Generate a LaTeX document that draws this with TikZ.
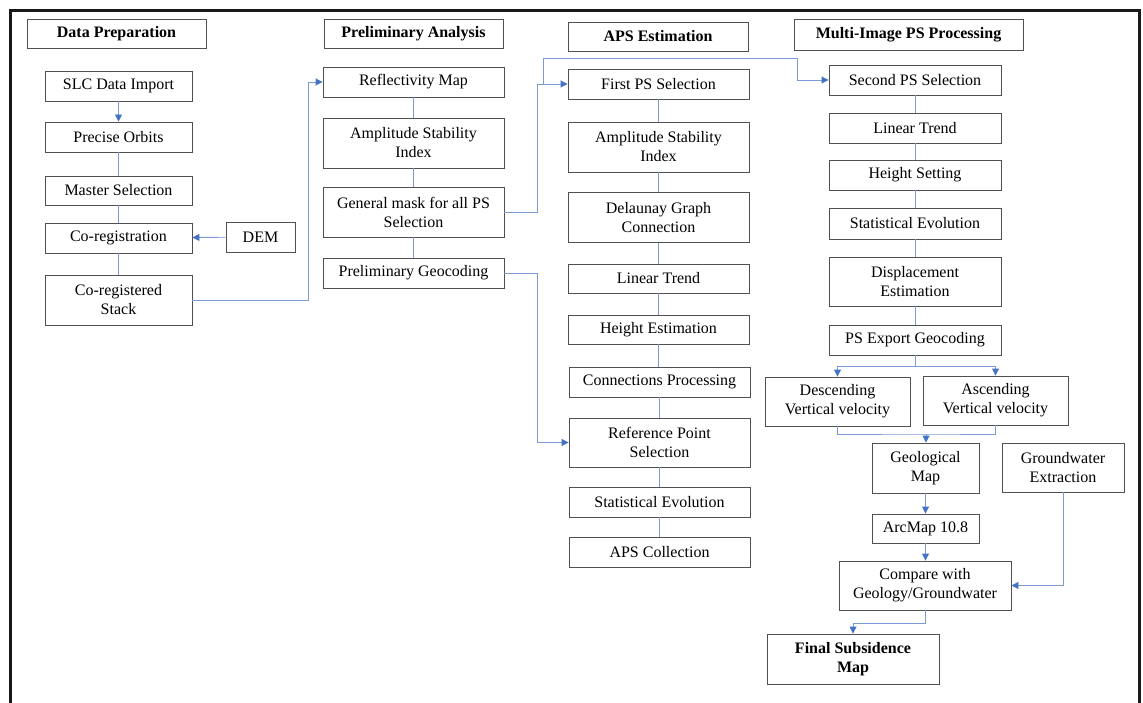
\documentclass[tikz,border=0pt]{standalone}
\usepackage{fontspec}
\setmainfont{Liberation Serif}
\usetikzlibrary{arrows.meta}
\definecolor{conn}{HTML}{7C9BD6}
\definecolor{tipc}{HTML}{4472C4}
\definecolor{bord}{HTML}{505050}
\tikzset{
  box/.style={draw=bord, line width=0.9pt, fill=white, inner sep=0pt, align=center,
    font=\fontsize{16}{19}\selectfont, text=black},
  hdr/.style={box, font=\fontsize{16}{19}\selectfont\bfseries},
  ln/.style={draw=conn, line width=0.9pt},
  arr/.style={ln, -{Triangle[length=7pt,width=7pt,color=tipc]}},
}
\newcommand{\bx}[7]{\node[#1, minimum width=#5pt, minimum height=#6pt] (#2) at (#3,#4) {#7};}
\begin{document}
\begin{tikzpicture}[x=1pt,y=-1pt]
\useasboundingbox (0,0) rectangle (1143,703);
% frame
\draw[line width=3pt, black!90] (10.5,710) -- (10.5,10.5) -- (1139,10.5) -- (1139,710);
% headers
\bx{hdr}{h1}{116.5}{33.5}{179}{29}{Data Preparation}
\bx{hdr}{h2}{413.5}{33.5}{179}{29}{Preliminary Analysis}
\bx{hdr}{h3}{658}{36.5}{180}{29}{APS Estimation}
\bx{hdr}{h4}{908.5}{34.5}{229}{31}{Multi-Image PS Processing}
% column 1
\bx{box}{slc}{118.5}{86}{147}{30}{SLC Data Import}
\bx{box}{orb}{118.5}{137}{147}{30}{Precise Orbits}
\bx{box}{mst}{118.5}{190.5}{147}{29}{Master Selection}
\bx{box}{crg}{118.5}{238}{147}{30}{Co-registration}
\bx{box}{dem}{260.5}{237}{69}{30}{DEM}
\bx{box}{stk}{118.5}{300}{147}{50}{Co-registered\\Stack}
% column 2
\bx{box}{rfl}{413.5}{82}{181}{30}{Reflectivity Map}
\bx{box}{asa}{413.5}{143}{181}{50}{Amplitude Stability\\Index}
\bx{box}{msk}{413.5}{212}{181}{50}{General mask for all PS\\Selection}
\bx{box}{pgc}{413.5}{273}{181}{30}{Preliminary Geocoding}
% column 3
\bx{box}{fps}{658.5}{84}{181}{30}{First PS Selection}
\bx{box}{asb}{658.5}{147}{181}{50}{Amplitude Stability\\Index}
\bx{box}{dlg}{658.5}{217.5}{181}{50}{Delaunay Graph\\Connection}
\bx{box}{lta}{658.5}{278.5}{181}{29}{Linear Trend}
\bx{box}{hte}{658.5}{329.5}{181}{29}{Height Estimation}
\bx{box}{cnp}{659.5}{382}{181}{30}{Connections Processing}
\bx{box}{rps}{659.5}{442.5}{181}{49}{Reference Point\\Selection}
\bx{box}{sea}{659.5}{502}{181}{30}{Statistical Evolution}
\bx{box}{apc}{659.5}{552}{181}{30}{APS Collection}
% column 4
\bx{box}{sps}{915}{80}{172}{30}{Second PS Selection}
\bx{box}{ltb}{915}{128}{172}{30}{Linear Trend}
\bx{box}{hts}{915}{175}{172}{30}{Height Setting}
\bx{box}{seb}{915}{223.5}{172}{31}{Statistical Evolution}
\bx{box}{dse}{915}{281.5}{172}{49}{Displacement\\Estimation}
\bx{box}{peg}{915}{340}{172}{30}{PS Export Geocoding}
\bx{box}{dsc}{837.5}{401.5}{145}{49}{Descending\\Vertical velocity}
\bx{box}{asc}{995.5}{400.5}{145}{49}{Ascending\\Vertical velocity}
\bx{box}{geo}{925.5}{468}{107}{50}{Geological\\Map}
\bx{box}{gwe}{1063}{467.5}{122}{49}{Groundwater\\Extraction}
\bx{box}{arc}{925.5}{528.5}{107}{29}{ArcMap 10.8}
\bx{box}{cmp}{925}{585.5}{172}{49}{Compare with\\Geology/Groundwater}
\node[hdr, minimum width=172pt, minimum height=50pt] (fin) at (853,659) {Final Subsidence\\Map};
% coordinates
\coordinate (j1) at (537,212);
\coordinate (j2) at (543,84);
\coordinate (j3) at (797,58);
\coordinate (j4) at (308,300);
\coordinate (j5) at (537,273);
\coordinate (s1) at (915,366);
\coordinate (m1) at (926,434);
\coordinate (f1) at (925,623);
% column 1 connectors
\draw[arr] (slc) -- (orb);
\draw[ln] (orb) -- (mst);
\draw[ln] (mst) -- (crg);
\draw[ln] (crg) -- (stk);
\draw[arr] (dem) -- (crg);
\draw[arr] (stk.east) -- (j4) |- (rfl.west);
% column 2
\draw[ln] (rfl) -- (asa);
\draw[ln] (asa) -- (msk);
\draw[ln] (msk) -- (pgc);
\draw[arr] (msk.east) -- (j1) |- (fps.west);
\draw[arr] (j2) |- (j3) |- (sps.west);
\draw[arr] (pgc.east) -- (j5) |- (rps.west);
% column 3
\draw[ln] (fps) -- (asb);
\draw[ln] (asb) -- (dlg);
\draw[ln] (dlg) -- (lta);
\draw[ln] (lta) -- (hte);
\draw[ln] (hte.south) -- (cnp.north -| hte.south);
\draw[ln] (cnp) -- (rps);
\draw[ln] (rps) -- (sea);
\draw[ln] (sea) -- (apc);
% column 4
\draw[ln] (sps) -- (ltb);
\draw[ln] (ltb) -- (hts);
\draw[ln] (hts) -- (seb);
\draw[ln] (seb) -- (dse);
\draw[ln] (dse) -- (peg);
\draw[ln] (peg.south) -- (s1);
\draw[arr] (s1) -| (dsc.north);
\draw[arr] (s1) -| (asc.north);
\draw[ln] (dsc.south) |- (m1) -| (asc.south);
\draw[arr] (m1) -- (geo.north -| m1);
\draw[arr] (geo) -- (arc);
\draw[arr] (arc) -- (cmp.north -| arc.south);
\draw[arr] (gwe.south) |- (cmp.east);
\draw[arr] (cmp.south) -- (f1) -| (fin.north);
\end{tikzpicture}
\end{document}
